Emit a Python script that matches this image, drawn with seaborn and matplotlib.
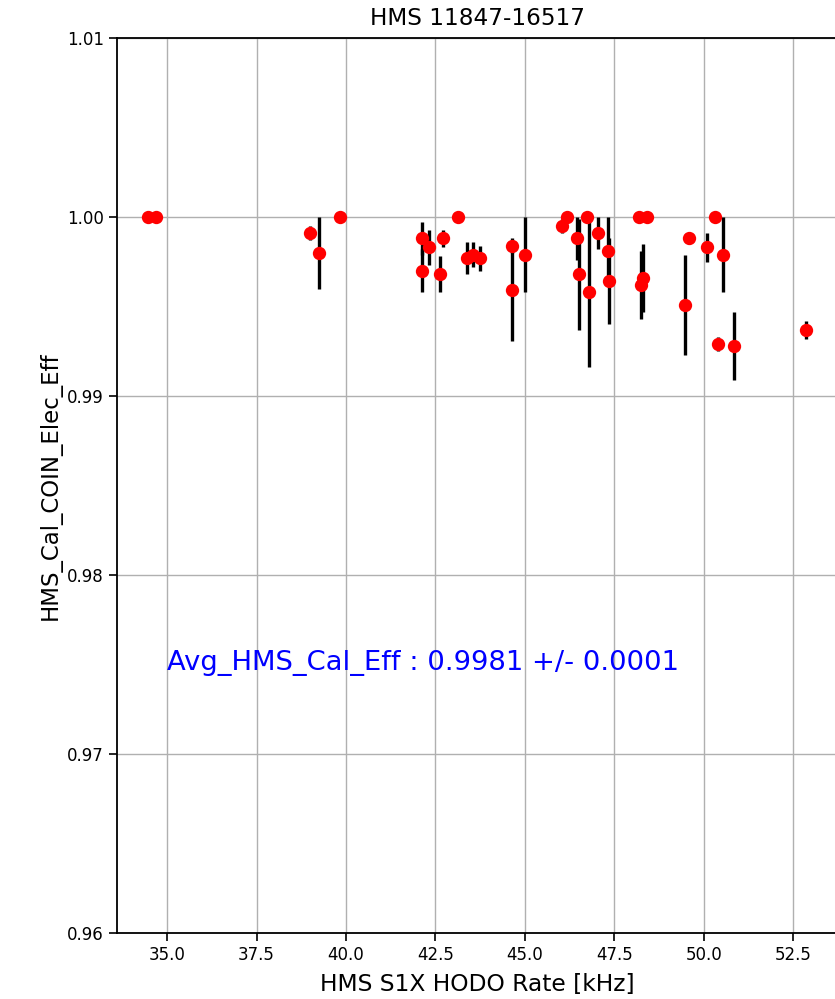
import matplotlib
matplotlib.use('Agg')
import matplotlib.pyplot as plt
from matplotlib.ticker import MultipleLocator
import pandas as pd
import seaborn as sns

# S1X hodo rate [kHz]
rate = [34.47, 34.69, 39.00, 39.25, 39.84, 42.12, 42.12, 42.33, 42.72, 42.63,
        43.12, 43.38, 43.55, 43.75, 44.64, 44.64, 44.99, 46.03, 46.17, 46.45,
        46.52, 46.73, 46.80, 47.03, 47.31, 47.36, 48.20, 48.40, 48.30, 48.24,
        49.48, 49.59, 50.10, 50.30, 50.53, 50.41, 50.85, 52.86]
# HMS cal efficiency
eff = [1.0000, 1.0000, 0.9991, 0.9980, 1.0000, 0.9988, 0.9970, 0.9983, 0.9988, 0.9968,
       1.0000, 0.9977, 0.9979, 0.9977, 0.9984, 0.9959, 0.9979, 0.9995, 1.0000, 0.9988,
       0.9968, 1.0000, 0.9958, 0.9991, 0.9981, 0.9964, 1.0000, 1.0000, 0.9966, 0.9962,
       0.9951, 0.9988, 0.9983, 1.0000, 0.9979, 0.9929, 0.9928, 0.9937]
eff_err = [0.0, 0.0, 0.0004, 0.0020, 0.0, 0.0009, 0.0012, 0.0010, 0.0005, 0.0010,
           0.0, 0.0009, 0.0007, 0.0007, 0.0004, 0.0028, 0.0021, 0.0004, 0.0, 0.0012,
           0.0031, 0.0, 0.0042, 0.0009, 0.0019, 0.0024, 0.0, 0.0, 0.0019, 0.0019,
           0.0028, 0.0003, 0.0008, 0.0, 0.0021, 0.0004, 0.0019, 0.0005]

title = 'HMS 11847-16517'
avg_text = 'Avg_HMS_Cal_Eff : 0.9981 +/- 0.0001'

df = pd.DataFrame({'rate': rate, 'eff': eff, 'err': eff_err})

plt.rcParams['font.family'] = ['DejaVu Sans']

fig = plt.figure(figsize=(8.35, 9.99), dpi=100)
ax = fig.add_axes([117 / 835, 66 / 999, 721 / 835, 895 / 999])

# error bars first, red points on top
ax.errorbar(df['rate'], df['eff'], yerr=df['err'], fmt='none',
            ecolor='black', elinewidth=2.4, zorder=2)
sns.scatterplot(data=df, x='rate', y='eff', color='red', edgecolor='red',
                s=92, linewidth=0, zorder=3, ax=ax)

ax.grid(True, color='#b0b0b0', linewidth=1.0)
ax.set_axisbelow(True)
ax.set_xlim(33.6, 53.75)
ax.set_ylim(0.96, 1.01)
ax.xaxis.set_major_locator(MultipleLocator(2.5))
ax.yaxis.set_major_locator(MultipleLocator(0.01))
ax.tick_params(labelsize=12, length=6, width=1.2)
for sp in ax.spines.values():
    sp.set_linewidth(1.3)

ax.set_title(title, fontsize=16.7, pad=9.5)
ax.set_xlabel('HMS S1X HODO Rate [kHz]', fontsize=16.8, labelpad=6)
ax.set_ylabel('HMS_Cal_COIN_Elec_Eff', fontsize=16.5)
ax.text(35.0, 0.9751, avg_text, color='blue', fontsize=19.7, va='center', ha='left')

fig.savefig('out.png', dpi=100)
